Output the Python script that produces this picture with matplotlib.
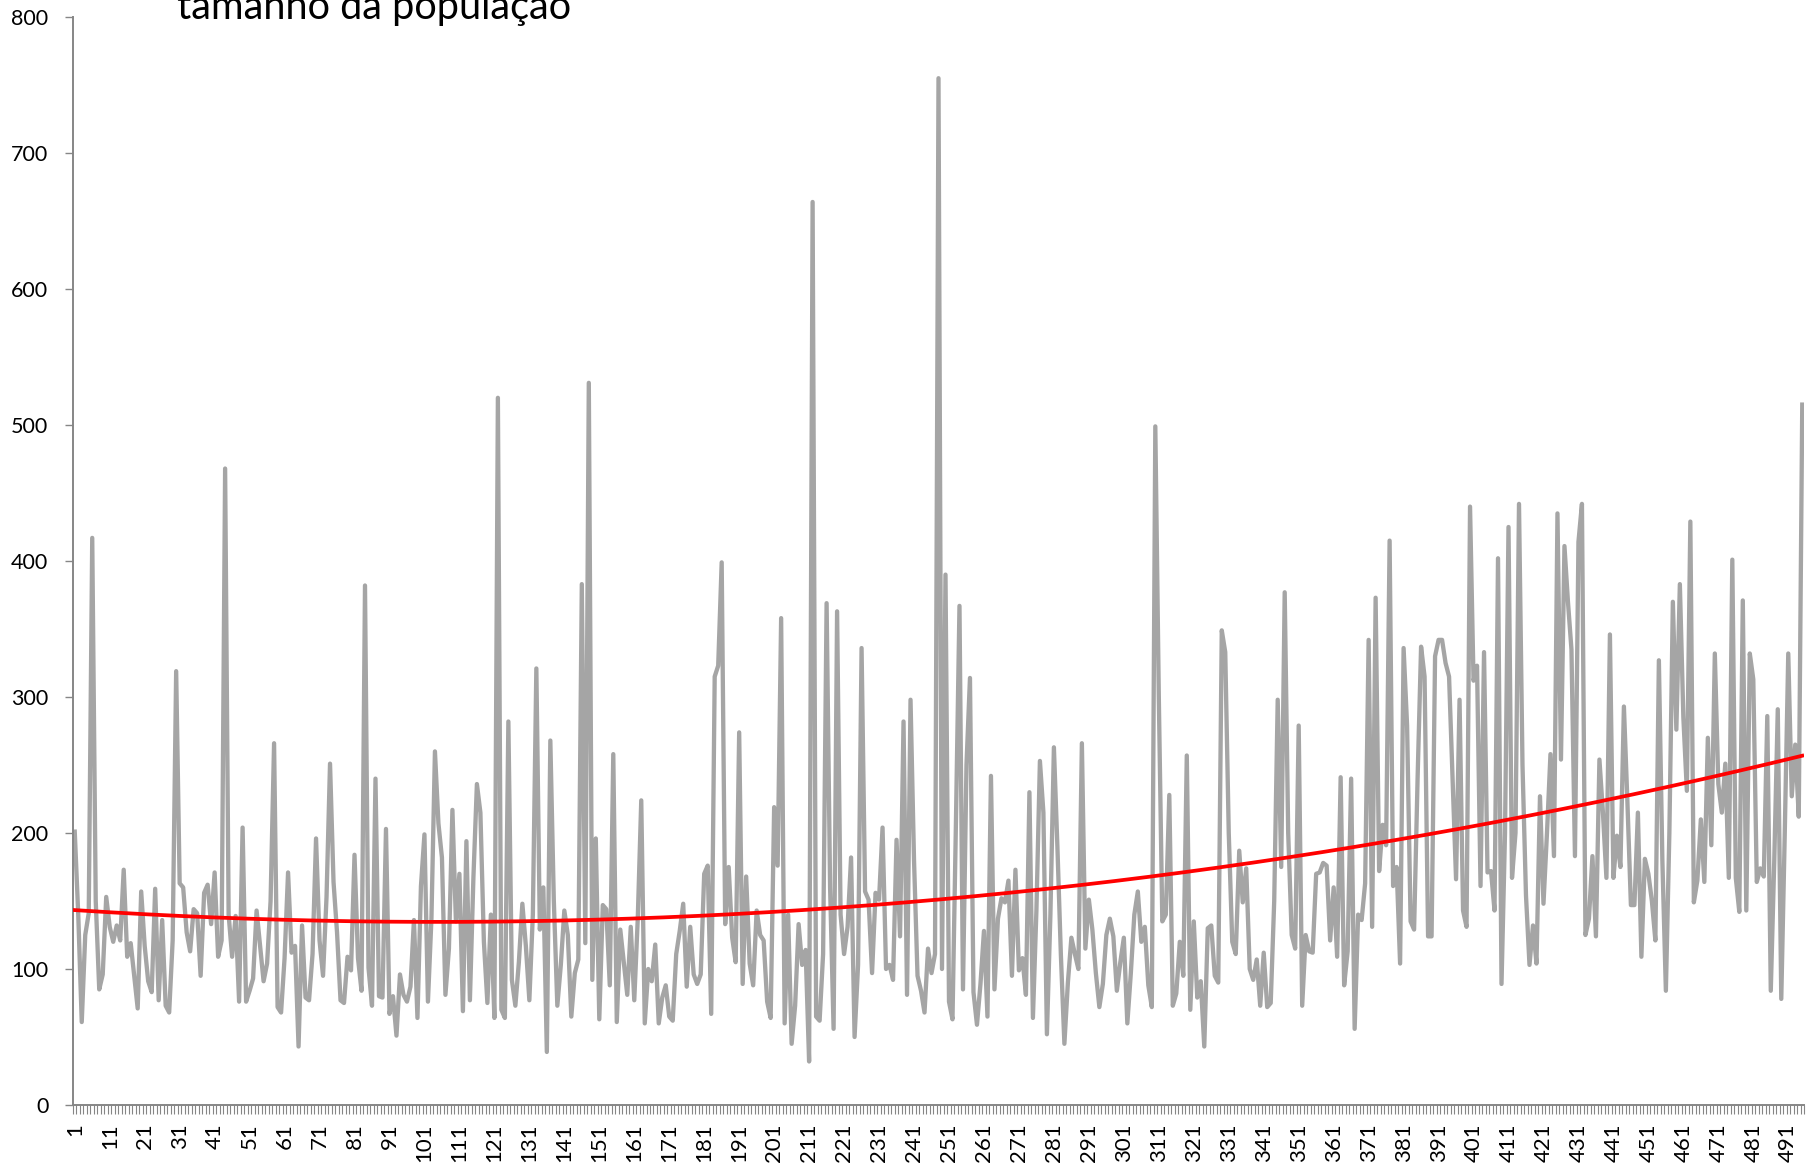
import numpy as np
import matplotlib
matplotlib.use("Agg")
import matplotlib.pyplot as plt

plt.rcParams['font.family'] = ['Lato', 'DejaVu Sans']

# values, one per category (1..N)
valores_1 = [201, 140, 61, 125, 141, 417, 150, 85, 96, 153, 131, 120, 132, 121, 173, 109, 119, 95, 71, 157,
             117, 91, 83, 159, 77, 136, 73, 68, 121, 319, 163, 160, 127, 113, 144, 141, 95, 156, 162, 133,
             171, 109, 121, 468, 140, 109, 139, 76, 204, 76, 84, 93, 143, 117, 91, 104, 150, 266, 72, 68,
             108, 171, 112, 117, 43, 132, 79, 77, 111, 196, 121, 95, 153, 251, 164, 127, 77, 75, 109, 99,
             184, 108, 84]
valores_2 = [382, 101, 73, 240, 80, 79, 203, 67, 80, 51, 96, 81, 76, 87, 136, 64, 161, 199, 76, 137,
             260, 207, 182, 81, 115, 217, 135, 170, 69, 194, 77, 167, 236, 215, 120, 75, 140, 64, 520, 70,
             64, 282, 92, 73, 105, 148, 117, 77, 140, 321, 129, 160, 39, 268, 150, 73, 103, 143, 125, 65,
             97, 107, 383, 119, 531, 92, 196, 63, 147, 144, 88, 258, 61, 129, 105, 81, 131, 77, 137]
valores_3 = [224, 60, 100, 91, 118, 60, 79, 88, 65, 62, 111, 128, 148, 87, 131, 96, 89, 96, 170, 176,
             67, 315, 323, 399, 133, 175, 123, 105, 274, 89, 168, 104, 88, 143, 125, 121, 76, 64, 219, 176,
             358, 60, 140, 45, 73, 133, 103, 114, 32, 664, 65, 62, 111, 369, 160, 56, 363, 140, 111, 131,
             182, 50, 103, 336, 157, 151, 97, 156, 151, 204, 100, 103, 92, 195, 124, 282, 81, 298, 180, 95,
             84, 68, 115, 97]
valores_4 = [111, 755, 100, 390, 76, 63, 210, 367, 85, 250, 314, 83, 59, 89, 128, 65, 242, 85, 137, 152,
             149, 165, 95, 173, 99, 108, 81, 230, 64, 143, 253, 215, 52, 140, 263, 190, 110, 45, 90, 123,
             111, 100, 266, 115, 151, 129, 97, 72, 89, 125, 137, 124, 84, 105, 123, 60, 97, 140, 157, 120,
             131, 88, 72, 499, 300, 135, 140, 228, 73, 82, 120, 95, 257, 70, 135, 79, 91, 43, 130, 132,
             95, 90]
valores_5 = [349, 333, 200, 120, 111, 187, 149, 174, 100, 92, 107, 73, 112, 72, 75, 150, 298, 175, 377, 200,
             125, 115, 279, 73, 125, 113, 112, 170, 171, 178, 176, 121, 160, 109, 241, 88, 113, 240, 56, 140,
             136, 163, 342, 131, 373, 172, 206, 191, 415, 161, 175, 104, 336, 279, 135, 129, 240, 337, 315, 124,
             124, 330, 342, 342, 325, 315, 240, 166, 298, 143, 131, 440, 312, 323, 161, 333, 171, 172, 143, 402,
             89, 200, 425, 167, 200]
valores_6 = [442, 250, 154, 103, 132, 104, 227, 148, 200, 258, 183, 435, 254, 411, 370, 335, 183, 414, 442, 125,
             137, 183, 124, 254, 215, 167, 346, 167, 198, 175, 293, 223, 147, 147, 215, 109, 181, 170, 150, 121,
             327, 180, 84, 200, 370, 276, 383, 285, 231, 429, 149, 165, 210, 164, 270, 191, 332, 236, 215, 251,
             167, 401, 167, 142, 371, 143, 332, 313, 164, 174, 168, 286, 84, 180, 291, 78, 200, 332, 227, 265,
             212, 515]

valores = np.array(valores_1 + valores_2 + valores_3 + valores_4 + valores_5 + valores_6, dtype=float)
n = len(valores)
x = np.arange(1, n + 1)

titulo = "tamanho da população"
y_ticks = list(range(0, 801, 100))
x_labels = list(range(1, n + 1, 10))

cinza_eixo = "#868686"

fig = plt.figure(figsize=(18.16, 11.65), dpi=100)
ax = fig.add_axes([73 / 1816, 60 / 1165, 1731 / 1816, 1088 / 1165])

ax.plot(x, valores, color="#A5A5A5", linewidth=3.1, solid_joinstyle="round", zorder=2)

# polynomial (order 2) trend line, like the spreadsheet trendline
coef = np.polyfit(x, valores, 2)
xt = np.linspace(1, n, 400)
ax.plot(xt, np.polyval(coef, xt), color="#FF0000", linewidth=2.7, zorder=3)

ax.set_xlim(0.5, n + 0.5)
ax.set_ylim(0, 800)
ax.set_yticks(y_ticks)
ax.set_yticklabels([str(v) for v in y_ticks], fontsize=15.5)
ax.set_xticks(x_labels)
ax.set_xticklabels([str(v) for v in x_labels], rotation=90, fontsize=16, va="top")
ax.set_xticks(np.arange(0.5, n + 1, 1), minor=True)

ax.tick_params(axis="y", length=5.8, width=1.0, color=cinza_eixo, pad=12, labelcolor="black")
ax.tick_params(axis="x", which="major", length=0, pad=13, labelcolor="black")
ax.tick_params(axis="x", which="minor", length=6.5, width=0.8, color=cinza_eixo)

for lado in ["top", "right"]:
    ax.spines[lado].set_visible(False)
for lado in ["left", "bottom"]:
    ax.spines[lado].set_color(cinza_eixo)
    ax.spines[lado].set_linewidth(1.4)

# the chart title sits partly above the picture, as in the reference
fig.text(177 / 1816, 1 - 18.5 / 1165, titulo, fontsize=28.5, ha="left", va="baseline")

fig.savefig("out.png", dpi=100)
